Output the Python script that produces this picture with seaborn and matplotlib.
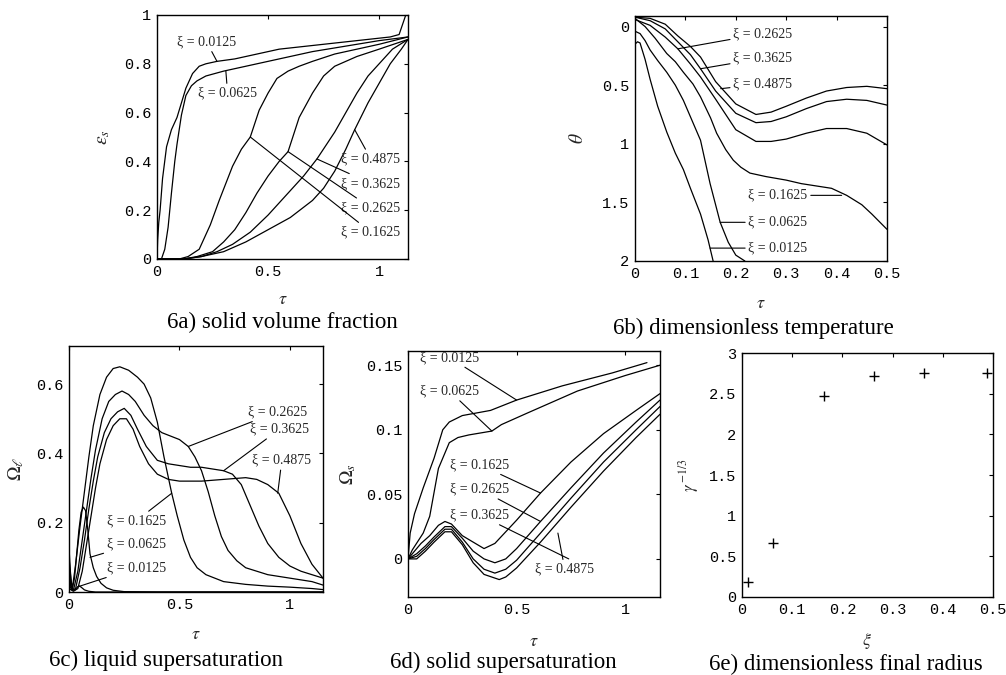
# imports
import numpy as np
import pandas as pd
import matplotlib
matplotlib.use('Agg')
import matplotlib.pyplot as plt
import seaborn as sns

# ====================================================================================================
# data

xi_labels = ['0.0125', '0.0625', '0.1625', '0.2625', '0.3625', '0.4875']

# 6a) solid volume fraction eps_s(tau)
a_tau = {
    '0.0125': [0, 0.003, 0.008, 0.014, 0.025, 0.043, 0.065, 0.09, 0.11, 0.13, 0.16, 0.19, 0.22, 0.27, 0.35,
               0.45, 0.55, 0.65, 0.75, 0.85, 0.95, 1.05, 1.09, 1.105, 1.12],
    '0.0625': [0, 0.02, 0.035, 0.05, 0.065, 0.08, 0.09, 0.11, 0.13, 0.155, 0.18, 0.22, 0.3, 0.4, 0.5, 0.6,
               0.7, 0.8, 0.9, 1.0, 1.13],
    '0.1625': [0, 0.1, 0.14, 0.19, 0.24, 0.28, 0.31, 0.34, 0.38, 0.42, 0.46, 0.5, 0.54, 0.59, 0.64, 0.7,
               0.8, 0.9, 1.0, 1.13],
    '0.2625': [0, 0.12, 0.18, 0.25, 0.3, 0.35, 0.4, 0.45, 0.5, 0.55, 0.59, 0.64, 0.7, 0.75, 0.8, 0.9, 1.0, 1.13],
    '0.3625': [0, 0.12, 0.2, 0.27, 0.34, 0.42, 0.5, 0.6, 0.66, 0.72, 0.8, 0.85, 0.9, 0.95, 1.0, 1.06, 1.13],
    '0.4875': [0, 0.12, 0.2, 0.3, 0.4, 0.5, 0.6, 0.7, 0.75, 0.8, 0.85, 0.89, 0.95, 1.0, 1.05, 1.1, 1.13],
}
a_eps = {
    '0.0125': [0, 0.08, 0.15, 0.2, 0.33, 0.46, 0.53, 0.58, 0.64, 0.7, 0.76, 0.79, 0.8, 0.81, 0.82,
               0.84, 0.86, 0.87, 0.88, 0.89, 0.9, 0.91, 0.92, 0.96, 1.0],
    '0.0625': [0, 0.0, 0.04, 0.13, 0.27, 0.4, 0.47, 0.59, 0.67, 0.71, 0.73, 0.75, 0.77, 0.79, 0.81, 0.83,
               0.85, 0.865, 0.88, 0.895, 0.91],
    '0.1625': [0, 0.0, 0.01, 0.04, 0.14, 0.24, 0.31, 0.38, 0.45, 0.5, 0.61, 0.68, 0.74, 0.77, 0.79, 0.81,
               0.84, 0.86, 0.88, 0.91],
    '0.2625': [0, 0.0, 0.01, 0.03, 0.07, 0.12, 0.19, 0.27, 0.34, 0.4, 0.44, 0.58, 0.68, 0.75, 0.79, 0.83, 0.86, 0.9],
    '0.3625': [0, 0.0, 0.01, 0.03, 0.06, 0.11, 0.18, 0.28, 0.34, 0.41, 0.52, 0.6, 0.68, 0.75, 0.8, 0.86, 0.9],
    '0.4875': [0, 0.0, 0.01, 0.03, 0.07, 0.12, 0.17, 0.24, 0.29, 0.36, 0.45, 0.53, 0.64, 0.72, 0.8, 0.86, 0.9],
}

# 6b) dimensionless temperature theta(tau)
b_tau = {
    '0.0125': [0, 0.005, 0.01, 0.02, 0.03, 0.045, 0.063, 0.08, 0.096, 0.11, 0.13, 0.145, 0.155],
    '0.0625': [0, 0.01, 0.02, 0.03, 0.045, 0.063, 0.08, 0.096, 0.11, 0.13, 0.149, 0.169, 0.185, 0.2, 0.218],
    '0.1625': [0, 0.02, 0.04, 0.063, 0.08, 0.096, 0.115, 0.13, 0.15, 0.162, 0.18, 0.195, 0.21, 0.228, 0.26,
               0.3, 0.33, 0.36, 0.39, 0.42, 0.45, 0.47, 0.5],
    '0.2625': [0, 0.03, 0.06, 0.085, 0.11, 0.13, 0.16, 0.2, 0.24, 0.27, 0.3, 0.34, 0.38, 0.42, 0.46, 0.5],
    '0.3625': [0, 0.03, 0.06, 0.085, 0.11, 0.13, 0.16, 0.2, 0.24, 0.27, 0.3, 0.34, 0.38, 0.42, 0.46, 0.5],
    '0.4875': [0, 0.03, 0.06, 0.085, 0.11, 0.13, 0.16, 0.2, 0.24, 0.27, 0.3, 0.34, 0.38, 0.42, 0.46, 0.5],
}
b_theta = {
    '0.0125': [0.15, 0.13, 0.14, 0.28, 0.45, 0.68, 0.9, 1.08, 1.22, 1.38, 1.6, 1.82, 2.0],
    '0.0625': [0.04, 0.06, 0.12, 0.2, 0.29, 0.39, 0.5, 0.63, 0.77, 0.97, 1.34, 1.67, 1.84, 1.95, 2.0],
    '0.1625': [-0.07, 0.0, 0.1, 0.23, 0.3, 0.39, 0.49, 0.6, 0.78, 0.91, 1.05, 1.14, 1.2, 1.25, 1.28,
               1.31, 1.34, 1.36, 1.38, 1.44, 1.52, 1.6, 1.73],
    '0.2625': [-0.06, -0.01, 0.09, 0.19, 0.32, 0.43, 0.62, 0.88, 0.98, 0.98, 0.96, 0.91, 0.87, 0.87, 0.91, 1.01],
    '0.3625': [-0.08, -0.05, 0.02, 0.13, 0.24, 0.36, 0.55, 0.74, 0.82, 0.81, 0.77, 0.7, 0.64, 0.62, 0.63, 0.67],
    '0.4875': [-0.08, -0.07, -0.02, 0.08, 0.17, 0.26, 0.47, 0.66, 0.75, 0.73, 0.68, 0.61, 0.55, 0.52, 0.51, 0.53],
}

# 6c) liquid supersaturation Omega_l(tau)
c_tau = {
    '0.0125': [0, 0.005, 0.01, 0.018, 0.025, 0.035, 0.045, 0.055, 0.07, 0.09, 0.12, 0.5, 1.15],
    '0.0625': [0, 0.008, 0.015, 0.025, 0.035, 0.045, 0.055, 0.065, 0.075, 0.085, 0.095, 0.11, 0.125, 0.145,
               0.17, 0.2, 0.25, 0.4, 1.15],
    '0.1625': [0, 0.008, 0.015, 0.03, 0.05, 0.07, 0.09, 0.11, 0.14, 0.17, 0.2, 0.23, 0.27, 0.31, 0.34, 0.37,
               0.4, 0.43, 0.465, 0.49, 0.52, 0.55, 0.58, 0.62, 0.7, 0.8, 0.9, 1.0, 1.1, 1.15],
    '0.2625': [0, 0.01, 0.02, 0.04, 0.06, 0.08, 0.1, 0.12, 0.15, 0.18, 0.21, 0.24, 0.27, 0.3, 0.34, 0.38,
               0.42, 0.46, 0.5, 0.54, 0.57, 0.6, 0.63, 0.66, 0.69, 0.72, 0.76, 0.8, 0.9, 1.0, 1.1, 1.15],
    '0.3625': [0, 0.015, 0.03, 0.05, 0.07, 0.09, 0.11, 0.13, 0.16, 0.19, 0.22, 0.25, 0.28, 0.31, 0.35, 0.4,
               0.45, 0.5, 0.55, 0.6, 0.65, 0.7, 0.74, 0.78, 0.82, 0.86, 0.9, 0.95, 1.0, 1.05, 1.1, 1.15],
    '0.4875': [0, 0.02, 0.04, 0.06, 0.08, 0.1, 0.12, 0.14, 0.17, 0.2, 0.23, 0.26, 0.29, 0.32, 0.36, 0.4,
               0.45, 0.5, 0.6, 0.7, 0.8, 0.85, 0.9, 0.95, 1.0, 1.05, 1.1, 1.15],
}
c_omega = {
    '0.0125': [0.13, 0.07, 0.03, 0.008, 0.005, 0.012, 0.018, 0.014, 0.006, 0.002, 0.0, 0.0, 0.0],
    '0.0625': [0.1, 0.04, 0.01, 0.04, 0.11, 0.18, 0.23, 0.245, 0.235, 0.18, 0.11, 0.07, 0.045, 0.025,
               0.012, 0.005, 0.001, 0.0, 0.0],
    '0.1625': [0.07, 0.02, 0.01, 0.08, 0.19, 0.29, 0.39, 0.48, 0.57, 0.62, 0.645, 0.65, 0.64, 0.62, 0.6, 0.56,
               0.49, 0.39, 0.285, 0.22, 0.15, 0.1, 0.07, 0.05, 0.03, 0.022, 0.017, 0.014, 0.01, 0.007],
    '0.2625': [0.04, 0.01, 0.005, 0.06, 0.15, 0.24, 0.33, 0.41, 0.5, 0.55, 0.57, 0.58, 0.57, 0.55, 0.51, 0.48,
               0.46, 0.45, 0.44, 0.42, 0.39, 0.35, 0.29, 0.22, 0.16, 0.12, 0.09, 0.07, 0.05, 0.04, 0.03, 0.02],
    '0.3625': [0.02, 0.005, 0.01, 0.07, 0.15, 0.24, 0.32, 0.39, 0.46, 0.5, 0.52, 0.53, 0.51, 0.47, 0.42, 0.38,
               0.37, 0.365, 0.36, 0.36, 0.355, 0.35, 0.34, 0.31, 0.25, 0.19, 0.14, 0.1, 0.075, 0.06, 0.05, 0.04],
    '0.4875': [0.01, 0.002, 0.01, 0.06, 0.14, 0.22, 0.3, 0.37, 0.44, 0.48, 0.5, 0.5, 0.47, 0.42, 0.37, 0.34,
               0.325, 0.32, 0.32, 0.325, 0.33, 0.325, 0.31, 0.285, 0.22, 0.14, 0.08, 0.04],
}

# 6d) solid supersaturation Omega_s(tau)
d_tau = {
    '0.0125': [0, 0.01, 0.03, 0.07, 0.12, 0.16, 0.19, 0.25, 0.38, 0.5, 0.71, 0.94, 1.1],
    '0.0625': [0, 0.02, 0.07, 0.1, 0.14, 0.19, 0.23, 0.28, 0.386, 0.43, 0.55, 0.78, 1.0, 1.16],
    '0.1625': [0, 0.03, 0.06, 0.1, 0.14, 0.17, 0.2, 0.25, 0.3, 0.35, 0.4, 0.5, 0.61, 0.75, 0.9, 1.05, 1.16],
    '0.2625': [0, 0.04, 0.08, 0.12, 0.17, 0.2, 0.25, 0.3, 0.35, 0.4, 0.45, 0.5, 0.61, 0.75, 0.9, 1.05, 1.16],
    '0.3625': [0, 0.04, 0.08, 0.12, 0.17, 0.2, 0.25, 0.3, 0.35, 0.4, 0.45, 0.5, 0.61, 0.75, 0.9, 1.05, 1.16],
    '0.4875': [0, 0.04, 0.08, 0.12, 0.17, 0.2, 0.25, 0.3, 0.35, 0.42, 0.45, 0.5, 0.61, 0.75, 0.9, 1.05, 1.16],
}
d_omega = {
    '0.0125': [0.0, 0.02, 0.035, 0.055, 0.078, 0.1, 0.106, 0.111, 0.115, 0.123, 0.134, 0.144, 0.152],
    '0.0625': [0.0, 0.007, 0.02, 0.033, 0.07, 0.09, 0.094, 0.096, 0.099, 0.104, 0.113, 0.13, 0.142, 0.15],
    '0.1625': [0.0, 0.006, 0.012, 0.018, 0.026, 0.029, 0.027, 0.018, 0.013, 0.008, 0.012, 0.03, 0.051,
               0.075, 0.097, 0.115, 0.128],
    '0.2625': [0.0, 0.004, 0.01, 0.017, 0.025, 0.025, 0.016, 0.006, 0.0, -0.003, 0.0, 0.008, 0.029,
               0.055, 0.082, 0.106, 0.123],
    '0.3625': [0.0, 0.002, 0.008, 0.015, 0.023, 0.023, 0.013, 0.0, -0.008, -0.011, -0.008, -0.001, 0.02,
               0.047, 0.075, 0.1, 0.118],
    '0.4875': [0.0, 0.0, 0.006, 0.013, 0.021, 0.021, 0.011, -0.003, -0.012, -0.016, -0.014, -0.007, 0.013,
               0.04, 0.068, 0.094, 0.112],
}

# 6e) dimensionless final radius
e_xi = [0.0125, 0.0625, 0.1625, 0.2625, 0.3625, 0.4875]
e_radius = [0.19, 0.67, 2.47, 2.72, 2.75, 2.75]

# ====================================================================================================

def long_frame(taus, values, yname):
    rows = []
    for key in xi_labels:
        for t, v in zip(taus[key], values[key]):
            rows.append({'xi': key, 'tau': t, yname: v})
    return pd.DataFrame(rows)


def style_axes(ax, xticks, xlabels, yticks, ylabels):
    ax.set_xticks(xticks)
    ax.set_xticklabels(xlabels)
    ax.set_yticks(yticks)
    ax.set_yticklabels(ylabels)
    ax.tick_params(direction='in', top=True, right=True, length=3, width=0.8, pad=4,
                   labelsize=11, colors='black')
    for lbl in ax.get_xticklabels() + ax.get_yticklabels():
        lbl.set_family('Liberation Mono')
    for s in ax.spines.values():
        s.set_visible(True)
        s.set_color('black')
        s.set_linewidth(1.0)


def draw_curves(ax, df, yname):
    sns.lineplot(data=df, x='tau', y=yname, units='xi', estimator=None, sort=False,
                 color='black', linewidth=0.9, ax=ax, legend=False)


def label(ax, text, xy, xytext):
    ax.annotate('ξ = ' + text, xy=xy, xytext=xytext, ha='left', va='center',
                fontsize=10, family='Liberation Serif',
                arrowprops=dict(arrowstyle='-', color='black', lw=0.8, shrinkA=0, shrinkB=0))

# ====================================================================================================

sns.set_theme(style='white')
plt.rcParams['font.family'] = ['Liberation Serif', 'DejaVu Serif']
plt.rcParams['mathtext.fontset'] = 'stix'

W, H = 1006, 675
fig = plt.figure(figsize=(W / 100, H / 100), dpi=100)
fig.patch.set_facecolor('white')


def add_axes(left, top, right, bottom):
    return fig.add_axes([left / W, 1 - bottom / H, (right - left) / W, (bottom - top) / H])


ax_a = add_axes(157, 15, 408, 259)
ax_b = add_axes(635, 16, 887, 261)
ax_c = add_axes(69, 346, 323, 592)
ax_d = add_axes(408, 351, 660, 597)
ax_e = add_axes(742, 353, 993, 597)

# ---- 6a
draw_curves(ax_a, long_frame(a_tau, a_eps, 'eps'), 'eps')
ax_a.set_xlim(0, 1.13)
ax_a.set_ylim(0, 1)
style_axes(ax_a, [0, 0.5, 1], ['0', '0.5', '1'],
           [0, 0.2, 0.4, 0.6, 0.8, 1], ['0', '0.2', '0.4', '0.6', '0.8', '1'])
label(ax_a, '0.0125', (0.27, 0.81), (0.09, 0.89))
label(ax_a, '0.0625', (0.31, 0.77), (0.185, 0.68))
label(ax_a, '0.4875', (0.89, 0.53), (0.83, 0.41))
label(ax_a, '0.3625', (0.72, 0.41), (0.83, 0.31))
label(ax_a, '0.2625', (0.59, 0.44), (0.83, 0.21))
label(ax_a, '0.1625', (0.42, 0.50), (0.83, 0.11))
ax_a.set_xlabel(r'$\tau$', fontsize=13)
ax_a.set_ylabel(r'$\varepsilon_s$', fontsize=14)
ax_a.xaxis.set_label_coords(0.5, -0.13)
ax_a.yaxis.set_label_coords(-0.18, 0.5)

# ---- 6b
draw_curves(ax_b, long_frame(b_tau, b_theta, 'theta'), 'theta')
ax_b.set_xlim(0, 0.5)
ax_b.set_ylim(2, -0.09)
style_axes(ax_b, [0, 0.1, 0.2, 0.3, 0.4, 0.5], ['0', '0.1', '0.2', '0.3', '0.4', '0.5'],
           [0, 0.5, 1, 1.5, 2], ['0', '0.5', '1', '1.5', '2'])
label(ax_b, '0.2625', (0.085, 0.19), (0.195, 0.06))
label(ax_b, '0.3625', (0.13, 0.36), (0.195, 0.27))
label(ax_b, '0.4875', (0.17, 0.53), (0.195, 0.49))
label(ax_b, '0.1625', (0.41, 1.44), (0.225, 1.44))
label(ax_b, '0.0625', (0.169, 1.67), (0.225, 1.67))
label(ax_b, '0.0125', (0.149, 1.89), (0.225, 1.89))
ax_b.set_xlabel(r'$\tau$', fontsize=13)
ax_b.set_ylabel(r'$\theta$', fontsize=14)
ax_b.xaxis.set_label_coords(0.5, -0.14)
ax_b.yaxis.set_label_coords(-0.19, 0.5)

# ---- 6c
draw_curves(ax_c, long_frame(c_tau, c_omega, 'omega'), 'omega')
ax_c.set_xlim(0, 1.15)
ax_c.set_ylim(0, 0.71)
style_axes(ax_c, [0, 0.5, 1], ['0', '0.5', '1'],
           [0, 0.2, 0.4, 0.6], ['0', '0.2', '0.4', '0.6'])
label(ax_c, '0.2625', (0.54, 0.42), (0.81, 0.52))
label(ax_c, '0.3625', (0.70, 0.35), (0.82, 0.47))
label(ax_c, '0.4875', (0.945, 0.285), (0.83, 0.38))
label(ax_c, '0.1625', (0.465, 0.285), (0.17, 0.205))
label(ax_c, '0.0625', (0.095, 0.10), (0.17, 0.14))
label(ax_c, '0.0125', (0.04, 0.015), (0.17, 0.07))
ax_c.set_xlabel(r'$\tau$', fontsize=13)
ax_c.set_ylabel(r'$\Omega_\ell$', fontsize=14)
ax_c.xaxis.set_label_coords(0.5, -0.14)
ax_c.yaxis.set_label_coords(-0.17, 0.5)

# ---- 6d
draw_curves(ax_d, long_frame(d_tau, d_omega, 'omega'), 'omega')
ax_d.set_xlim(0, 1.16)
ax_d.set_ylim(-0.0295, 0.161)
style_axes(ax_d, [0, 0.5, 1], ['0', '0.5', '1'],
           [0, 0.05, 0.1, 0.15], ['0', '0.05', '0.1', '0.15'])
label(ax_d, '0.0125', (0.50, 0.123), (0.055, 0.156))
label(ax_d, '0.0625', (0.386, 0.099), (0.055, 0.13))
label(ax_d, '0.1625', (0.61, 0.051), (0.194, 0.073))
label(ax_d, '0.2625', (0.61, 0.029), (0.194, 0.054))
label(ax_d, '0.3625', (0.74, 0.0), (0.194, 0.034))
label(ax_d, '0.4875', (0.69, 0.02), (0.586, -0.008))
ax_d.set_xlabel(r'$\tau$', fontsize=13)
ax_d.set_ylabel(r'$\Omega_s$', fontsize=14)
ax_d.xaxis.set_label_coords(0.5, -0.145)
ax_d.yaxis.set_label_coords(-0.2, 0.5)

# ---- 6e
sns.scatterplot(x=e_xi, y=e_radius, marker='+', s=50, color='black', linewidth=1.0, ax=ax_e)
ax_e.set_xlim(0, 0.5)
ax_e.set_ylim(0, 3)
style_axes(ax_e, [0, 0.1, 0.2, 0.3, 0.4, 0.5], ['0', '0.1', '0.2', '0.3', '0.4', '0.5'],
           [0, 0.5, 1, 1.5, 2, 2.5, 3], ['0', '0.5', '1', '1.5', '2', '2.5', '3'])
ax_e.set_xlabel(r'$\xi$', fontsize=13)
ax_e.set_ylabel(r'$\gamma^{\,\mathrm{-1/3}}$', fontsize=12)
ax_e.xaxis.set_label_coords(0.5, -0.14)
ax_e.yaxis.set_label_coords(-0.165, 0.5)

# captions
captions = [
    ('6a) solid volume fraction', 282, 322),
    ('6b) dimensionless temperature', 753, 328),
    ('6c) liquid supersaturation', 166, 660),
    ('6d) solid supersaturation', 503, 662),
    ('6e) dimensionless final radius', 846, 664),
]
for txt, cx, cy in captions:
    fig.text(cx / W, 1 - cy / H, txt, ha='center', va='center', fontsize=16.5,
             family='Liberation Serif', color='black')

fig.savefig('out.png', dpi=100, facecolor='white')
